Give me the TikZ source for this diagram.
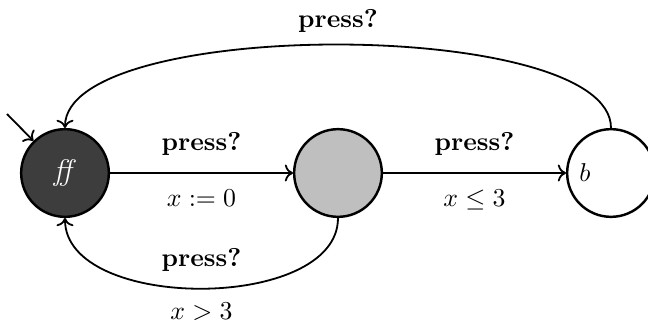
\documentclass[tikz,border=0pt]{standalone}
\usepackage{amsmath,amssymb}
\usepackage{tikz}
\usetikzlibrary{arrows.meta}

\begin{document}
\begin{tikzpicture}[>=To, x=0.01362cm, y=-0.01362cm,
  loc/.style={circle, draw, line width=0.95pt, minimum size=34pt, inner sep=0pt},
  trans/.style={->, line width=0.7pt}]
\useasboundingbox (0,0) rectangle (648,325);
\node[loc, fill=black!76, text=white] (ff) at (65,173) {\fontsize{11.5}{13}\selectfont\textit{ff}};
\node[loc, fill=black!25] (wait) at (338,173) {};
\node[loc, label={[anchor=west,inner sep=5pt]west:$b$}] (b) at (611,173) {};
\coordinate (init) at (7,114);
\draw[trans] (init) -- (ff);
\draw[trans] (ff) -- (wait) node[above=3pt, midway]{\textbf{press?}} node[below=3pt, midway]{$x := 0$};
\draw[trans] (wait) -- (b) node[above=3pt, midway]{\textbf{press?}} node[below=3pt, midway]{$x \leq 3$};
\draw[trans] (b.north) .. controls (611,17) and (65,17) .. (ff.north) node[above=1pt, midway]{\textbf{press?}};
\draw[trans] (wait.south) .. controls (338,312) and (65,312) .. (ff.south) node[above=3pt, midway]{\textbf{press?}} node[below=2pt, midway]{$x > 3$};
\end{tikzpicture}
\end{document}
